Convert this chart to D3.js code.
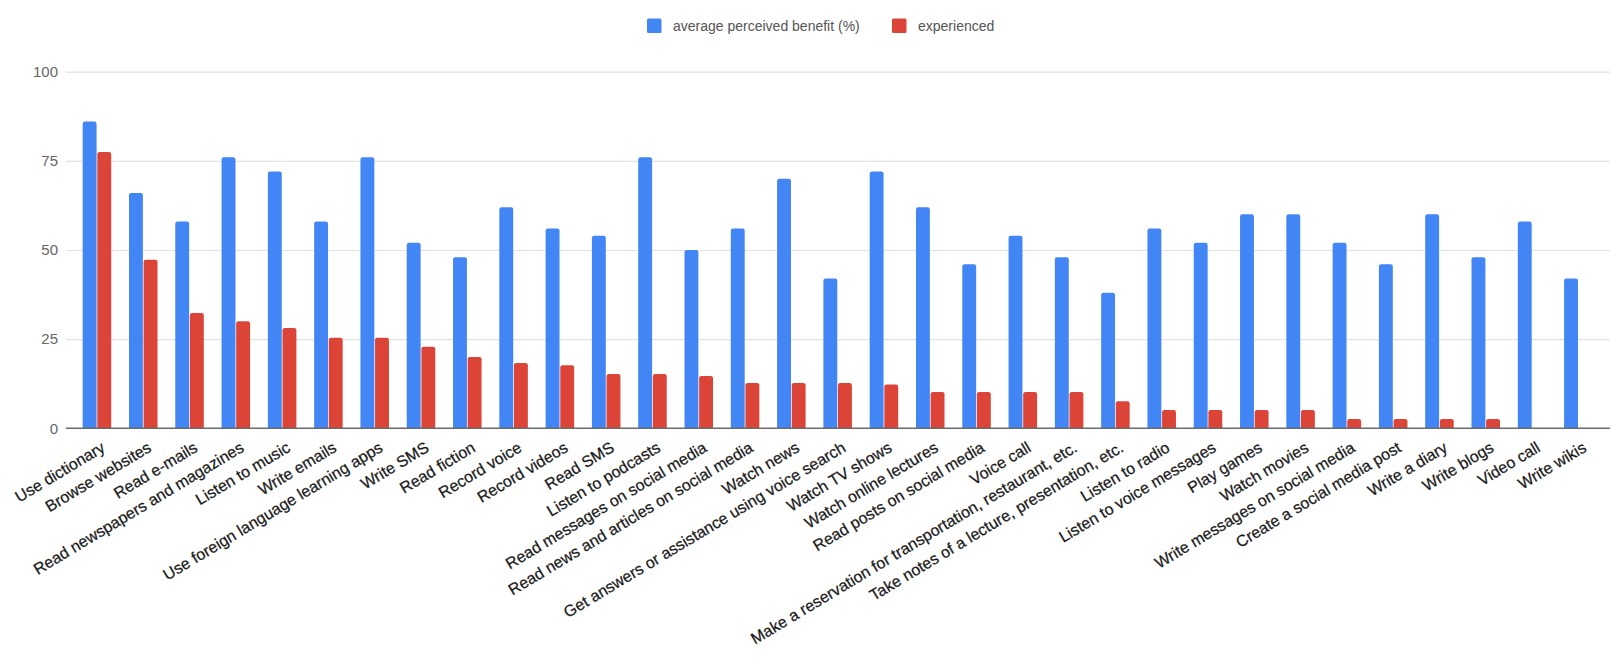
<!DOCTYPE html>
<html>
<head>
<meta charset="utf-8">
<script src="https://cdn.jsdelivr.net/npm/d3@7"></script>
<style>
  html, body { margin: 0; padding: 0; background: #ffffff; }
  svg { display: block; }
</style>
</head>
<body>
<svg id="chart" width="1612" height="662"></svg>
<script>
// Activities, in the order they appear along the x axis
const categories = [
  "Use dictionary", "Browse websites", "Read e-mails", "Read newspapers and magazines",
  "Listen to music", "Write emails", "Use foreign language learning apps", "Write SMS",
  "Read fiction", "Record voice", "Record videos", "Read SMS", "Listen to podcasts",
  "Read messages on social media", "Read news and articles on social media", "Watch news",
  "Get answers or assistance using voice search", "Watch TV shows", "Watch online lectures",
  "Read posts on social media", "Voice call",
  "Make a reservation for transportation, restaurant, etc.",
  "Take notes of a lecture, presentation, etc.", "Listen to radio",
  "Listen to voice messages", "Play games", "Watch movies",
  "Write messages on social media", "Create a social media post", "Write a diary",
  "Write blogs", "Video call", "Write wikis"
];

// Average perceived benefit (%)
const benefit = [
  86, 66, 58, 76, 72, 58, 76, 52, 48, 62, 56, 54, 76, 50, 56, 70, 42,
  72, 62, 46, 54, 48, 38, 56, 52, 60, 60, 52, 46, 60, 48, 58, 42
];

// Share who have experienced the activity (%)
const experienced = [
  77.5, 47.3, 32.3, 30, 28.1, 25.4, 25.4, 22.9, 20, 18.3, 17.7, 15.2, 15.2, 14.7, 12.7, 12.7, 12.7,
  12.3, 10.2, 10.2, 10.2, 10.2, 7.6, 5.1, 5.1, 5.1, 5.1, 2.6, 2.6, 2.6, 2.6, 0, 0
];

const seriesNames = ["average perceived benefit (%)", "experienced"];
const seriesColors = ["#4285F4", "#DB4437"];
const yTicks = [0, 25, 50, 75, 100];

const svg = d3.select("#chart");

const plot = { left: 73.8, right: 1601.5, top: 71.7, bottom: 428.3 };
const gridLeft = 66, gridRight = 1610;

const x0 = d3.scaleBand()
  .domain(categories)
  .range([plot.left, plot.right])
  .paddingInner(0.384)
  .paddingOuter(0.192);

const x1 = d3.scaleBand()
  .domain(seriesNames)
  .range([0, x0.bandwidth()])
  .paddingInner(0.05);

const y = d3.scaleLinear().domain([0, 100]).range([plot.bottom, plot.top]);

// Horizontal gridlines and value labels
const yAxis = d3.axisLeft(y).tickValues(yTicks).tickSize(0).tickPadding(0);
const yg = svg.append("g").attr("transform", `translate(${gridLeft},0)`).call(yAxis);
yg.select(".domain").remove();
yg.selectAll("text")
  .attr("x", -8)
  .attr("font-family", "'Liberation Sans', Arial, sans-serif")
  .attr("font-size", 15)
  .attr("fill", "#666666");
yg.selectAll(".tick")
  .filter(d => d !== 0)
  .append("line")
  .attr("x1", 0)
  .attr("x2", gridRight - gridLeft)
  .attr("stroke", "#e2e2e2")
  .attr("stroke-width", 1.2);

// Bars: top corners slightly rounded
function barPath(x, w, yTop, yBase, r) {
  const h = yBase - yTop;
  if (h <= 0) return "";
  const rr = Math.min(r, h, w / 2);
  return `M${x},${yBase}V${yTop + rr}Q${x},${yTop} ${x + rr},${yTop}` +
         `H${x + w - rr}Q${x + w},${yTop} ${x + w},${yTop + rr}V${yBase}Z`;
}

const rows = categories.map((c, i) => ({ cat: c, values: [benefit[i], experienced[i]] }));

const groups = svg.append("g")
  .selectAll("g")
  .data(rows)
  .join("g")
  .attr("transform", d => `translate(${x0(d.cat)},0)`);

groups.selectAll("path")
  .data(d => d.values.map((v, k) => ({ key: seriesNames[k], value: v, k })))
  .join("path")
  .attr("d", d => barPath(x1(d.key), x1.bandwidth(), y(d.value), y(0), 2.2))
  .attr("fill", d => seriesColors[d.k]);

// Baseline
svg.append("line")
  .attr("x1", gridLeft).attr("x2", gridRight)
  .attr("y1", y(0)).attr("y2", y(0))
  .attr("stroke", "#6b6b6b").attr("stroke-width", 1.5);

// Slanted category labels
const xAxis = d3.axisBottom(x0).tickSize(0).tickPadding(0);
const xg = svg.append("g").attr("transform", `translate(0,${y(0)})`).call(xAxis);
xg.select(".domain").remove();
xg.selectAll("text")
  .attr("font-family", "'Liberation Sans', Arial, sans-serif")
  .attr("font-size", 16)
  .attr("fill", "#1a1a1a")
  .attr("stroke", "#1a1a1a")
  .attr("stroke-width", 0.25)
  .attr("text-anchor", "end")
  .attr("dy", "0.75em")
  .attr("y", 0)
  .attr("transform", "translate(3,12) rotate(-31)");

// Legend
const legendItems = [
  { name: seriesNames[0], color: seriesColors[0], x: 647 },
  { name: seriesNames[1], color: seriesColors[1], x: 892 }
];
const lg = svg.append("g");
legendItems.forEach(it => {
  lg.append("rect")
    .attr("x", it.x).attr("y", 18.5)
    .attr("width", 14.5).attr("height", 14.5)
    .attr("rx", 1.5)
    .attr("fill", it.color);
  lg.append("text")
    .attr("x", it.x + 26).attr("y", 26)
    .attr("dy", "0.35em")
    .attr("font-family", "'Liberation Sans', Arial, sans-serif")
    .attr("font-size", 14)
    .attr("fill", "#555555")
    .text(it.name);
});
</script>
</body>
</html>
